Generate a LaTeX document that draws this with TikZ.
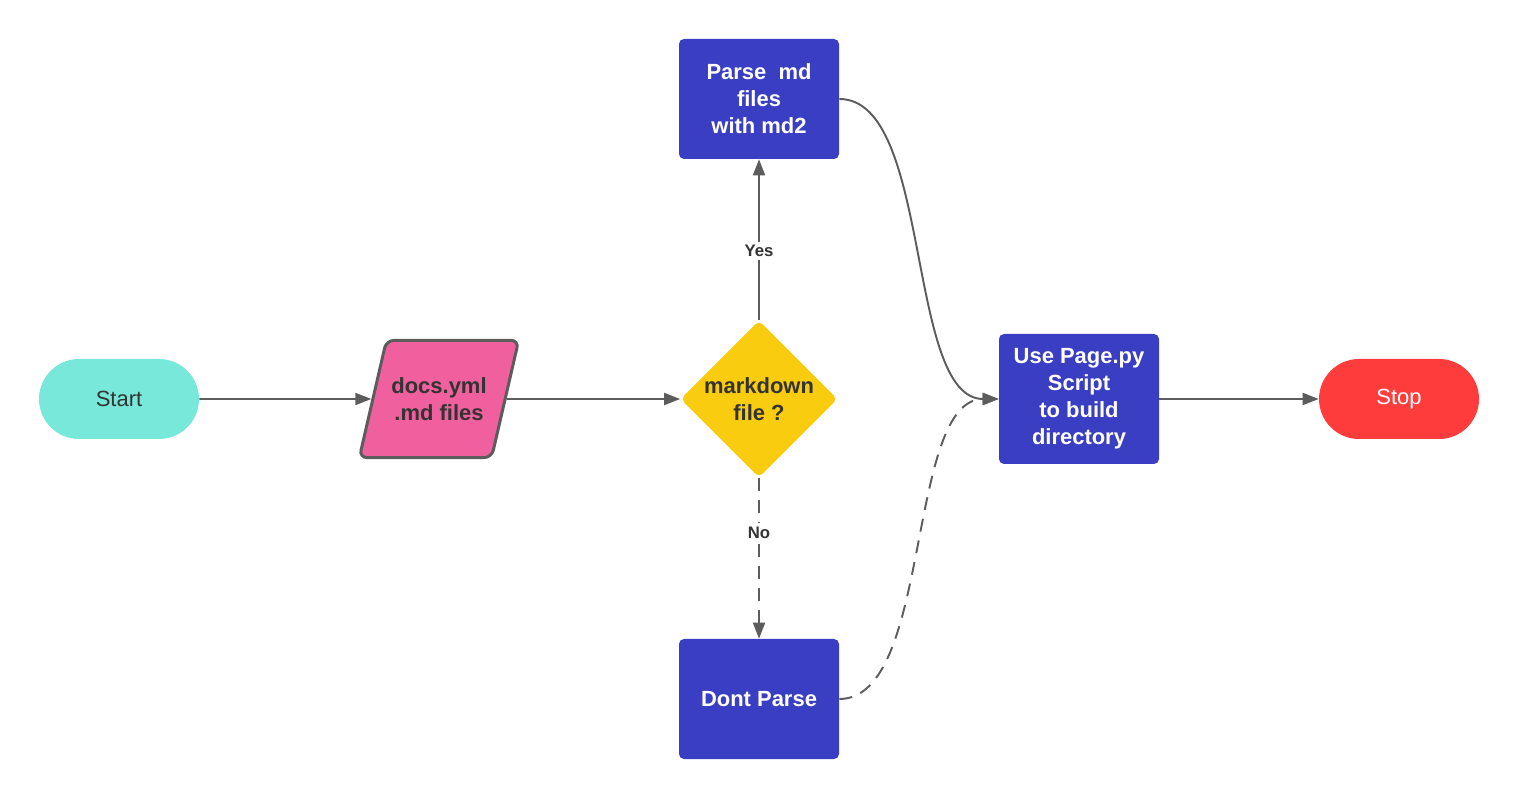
\documentclass[tikz,border=0pt]{standalone}
\usepackage{fontspec}
\setmainfont{Liberation Sans}
\usepackage{xcolor}
\usepackage{tikz}
\usetikzlibrary{positioning,arrows.meta,shapes.geometric}
\definecolor{lineGray}{HTML}{5C5C5C}
\definecolor{textDark}{HTML}{333333}
\definecolor{startTeal}{HTML}{77E8DA}
\definecolor{ioPink}{HTML}{F0609E}
\definecolor{decYellow}{HTML}{FACC10}
\definecolor{procBlue}{HTML}{3A3EC3}
\definecolor{stopRed}{HTML}{FF3C3C}
\tikzset{
  lbl/.style={font=\fontsize{12.5}{15.4}\selectfont},
  term/.style={lbl,rounded corners=8mm,minimum width=32mm,minimum height=16mm,align=center},
  iobox/.style={lbl,trapezium,trapezium left angle=77,trapezium right angle=103,
    inner xsep=1mm,inner ysep=7.4mm,rounded corners=1.5mm,fill=ioPink,draw=lineGray,
    line width=1.7pt,text=textDark,font=\fontsize{12.5}{15.4}\selectfont\bfseries,align=center},
  decbox/.style={lbl,diamond,minimum size=31.4mm,inner sep=-1mm,rounded corners=1mm,fill=decYellow,
    text=textDark,font=\fontsize{12.5}{15.4}\selectfont\bfseries,align=center},
  procbox/.style={lbl,rounded corners=1mm,fill=procBlue,text=white,minimum width=32mm,minimum height=24mm,
    font=\fontsize{12.5}{15.4}\selectfont\bfseries,align=center},
  arr/.style={-{Triangle[length=3.2mm,width=2.4mm]},draw=lineGray,line width=1.1pt},
  ans/.style={fill=white,text=textDark,font=\fontsize{9.5}{11}\selectfont\bfseries,inner sep=2pt}
}
\begin{document}
\begin{tikzpicture}[node distance=64mm,on grid]
\useasboundingbox (-23.8mm,-80.2mm) rectangle (280.2mm,79.8mm);
\node[term,fill=startTeal,text=textDark] (start) {Start};
\node[iobox, right=of start] (docs) {docs.yml\\.md files};
\node[decbox, right=of docs] (dec) {markdown\\file ?};
\node[procbox, above=60mm of dec] (parse) {Parse\ \ md\\files\\with md2};
\node[procbox, below=60mm of dec] (dont) {Dont Parse};
\node[procbox, minimum height=26mm, right=of dec] (use) {Use Page.py\\Script\\to build\\directory};
\node[term,fill=stopRed,text=white, right=of use] (stop) {Stop};

\draw[arr] (start) -- (docs);
\draw[arr] (docs) -- (dec);
\draw[arr] (dec) -- node[ans,pos=0.43]{Yes} (parse);
\draw[arr, dash pattern=on 2.6mm off 1.8mm] (dec) -- node[ans,pos=0.34]{No} (dont);
\draw[arr] (parse.east) to[out=0,in=180,looseness=0.7] (use.west);
\draw[arr, dash pattern=on 2.6mm off 1.8mm] (dont.east) to[out=0,in=180,looseness=0.7] (use.west);
\draw[arr] (use) -- (stop);
\end{tikzpicture}
\end{document}
